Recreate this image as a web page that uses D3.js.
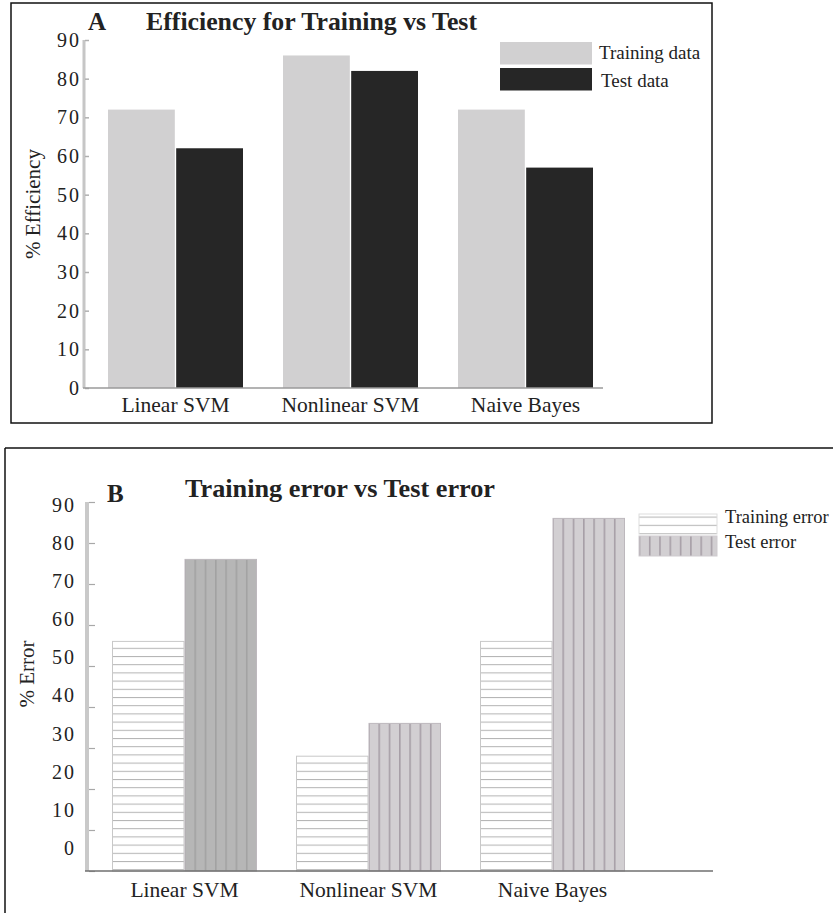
<!DOCTYPE html>
<html>
<head>
<meta charset="utf-8">
<script src="https://cdn.jsdelivr.net/npm/d3@7"></script>
<style>
html,body{margin:0;padding:0;background:#fff;}
svg{display:block;}
text{font-family:"Liberation Serif","Times New Roman",serif;fill:#222;}
</style>
</head>
<body>
<script>
// ---------- data ----------
const categories = ["Linear SVM", "Nonlinear SVM", "Naive Bayes"];
const effSeries = ["Training data", "Test data"];
const effTraining = [72, 86, 72];
const effTest = [62, 82, 57];
const errSeries = ["Training error", "Test error"];
const errTraining = [56, 28, 56];
const errTest = [76, 36, 86];
const yTicks = [0, 10, 20, 30, 40, 50, 60, 70, 80, 90];
const titleA = "Efficiency for Training vs Test";
const titleB = "Training error vs Test error";
const yLabelA = "% Efficiency";
const yLabelB = "% Error";

const W = 833, H = 913;
const svg = d3.select("body").append("svg").attr("width", W).attr("height", H);

const defs = svg.append("defs");
// horizontal-line hatch (training error)
const ph = defs.append("pattern").attr("id", "hatchH").attr("patternUnits", "userSpaceOnUse")
  .attr("width", 10).attr("height", 8.2);
ph.append("rect").attr("width", 10).attr("height", 8.2).attr("fill", "#fff");
ph.append("rect").attr("y", 0).attr("width", 10).attr("height", 1).attr("fill", "#b3b3b3");
// vertical-line hatch (test error)
function vHatch(id, bg, line) {
  const p = defs.append("pattern").attr("id", id).attr("patternUnits", "userSpaceOnUse")
    .attr("width", 10.3).attr("height", 10);
  p.append("rect").attr("width", 10.3).attr("height", 10).attr("fill", bg);
  p.append("rect").attr("x", 0).attr("width", 1.6).attr("height", 10).attr("fill", line);
}
vHatch("hatchV", "#d2cfd2", "#a79fa7");
vHatch("hatchVdark", "#b6b6b6", "#a2a2a2");

// ================= Panel A =================
svg.append("rect").attr("x", 11).attr("y", 3).attr("width", 701).attr("height", 420)
  .attr("fill", "none").attr("stroke", "#111").attr("stroke-width", 1.5);

const yA = d3.scaleLinear().domain([0, 90]).range([388, 40]);
const x0A = d3.scaleBand().domain(categories).range([108, 593]).paddingInner(40 / 175).paddingOuter(0);
const x1A = d3.scaleBand().domain(effSeries).range([0, x0A.bandwidth()]).paddingInner(0.02);
const colA = d3.scaleOrdinal().domain(effSeries).range(["#d1d0d1", "#262626"]);

const gA = svg.append("g");
const rowsA = categories.map((c, i) => ({ c, vals: [effTraining[i], effTest[i]] }));
gA.selectAll("g.grp").data(rowsA).join("g").attr("class", "grp")
  .attr("transform", d => `translate(${x0A(d.c)},0)`)
  .selectAll("rect").data(d => d.vals.map((v, j) => ({ s: effSeries[j], v })))
  .join("rect")
  .attr("x", d => x1A(d.s)).attr("width", x1A.bandwidth())
  .attr("y", d => yA(d.v)).attr("height", d => yA(0) - yA(d.v))
  .attr("fill", d => colA(d.s));

gA.append("line").attr("x1", 84).attr("x2", 84).attr("y1", yA(90)).attr("y2", yA(0))
  .attr("stroke", "#c6c6c6").attr("stroke-width", 3);
const tA = gA.append("g").attr("transform", "translate(85,0)")
  .call(d3.axisRight(yA).tickValues(yTicks).tickSize(4).tickFormat(""));
tA.select(".domain").remove();
tA.selectAll(".tick line").attr("stroke", "#b0b0b0").attr("stroke-width", 1.5);
const lA = gA.append("g").attr("transform", "translate(81,0)")
  .call(d3.axisLeft(yA).tickValues(yTicks).tickSize(0).tickPadding(0));
lA.select(".domain").remove();
lA.selectAll(".tick text").attr("font-family", "Liberation Serif").attr("font-size", 20)
  .attr("letter-spacing", "2px").attr("fill", "#222");
gA.append("line").attr("x1", 83).attr("x2", 603).attr("y1", yA(0)).attr("y2", yA(0))
  .attr("stroke", "#9a9a9a").attr("stroke-width", 1.5);
gA.selectAll("text.cat").data(categories).join("text").attr("class", "cat")
  .attr("x", d => x0A(d) + x0A.bandwidth() / 2).attr("y", 412)
  .attr("text-anchor", "middle").attr("font-size", 21.5).text(d => d);
gA.append("text").attr("transform", "translate(40,204) rotate(-90)")
  .attr("text-anchor", "middle").attr("font-size", 21).text(yLabelA);
gA.append("text").attr("x", 88).attr("y", 30).attr("font-size", 25).attr("font-weight", "bold").text("A");
gA.append("text").attr("x", 146).attr("y", 30).attr("font-size", 25).attr("font-weight", "bold")
  .attr("textLength", 331).attr("lengthAdjust", "spacingAndGlyphs").text(titleA);
const legA = gA.append("g");
effSeries.forEach((s, i) => {
  legA.append("rect").attr("x", 500).attr("y", 42 + i * 26).attr("width", 92).attr("height", 22.5)
    .attr("fill", colA(s));
  legA.append("text").attr("x", 599 + i * 2).attr("y", 59 + i * 28).attr("font-size", 19).text(s);
});

// ================= Panel B =================
svg.append("line").attr("x1", 5).attr("x2", W).attr("y1", 448).attr("y2", 448)
  .attr("stroke", "#111").attr("stroke-width", 1.5);
svg.append("line").attr("x1", 5).attr("x2", 5).attr("y1", 448).attr("y2", H)
  .attr("stroke", "#111").attr("stroke-width", 1.5);

const yB = d3.scaleLinear().domain([0, 90]).range([871, 502]);
const yBLabel = d3.scaleLinear().domain([0, 90]).range([848, 505]);
const x0B = d3.scaleBand().domain(categories).range([112, 625]).paddingInner(39 / 184).paddingOuter(0);
const x1B = d3.scaleBand().domain(errSeries).range([0, x0B.bandwidth()]).paddingInner(0);

const gB = svg.append("g");
gB.append("line").attr("x1", 87).attr("x2", 87).attr("y1", yB(90)).attr("y2", yB(0))
  .attr("stroke", "#c9c9c9").attr("stroke-width", 4);
const tB = gB.append("g").attr("transform", "translate(89,0)")
  .call(d3.axisRight(yB).tickValues(yTicks).tickSize(6).tickFormat(""));
tB.select(".domain").remove();
tB.selectAll(".tick line").attr("stroke", "#a8a8a8").attr("stroke-width", 1.2);
const lB = gB.append("g").attr("transform", "translate(76,0)")
  .call(d3.axisLeft(yBLabel).tickValues(yTicks).tickSize(0).tickPadding(0));
lB.select(".domain").remove();
lB.selectAll(".tick text").attr("font-family", "Liberation Serif").attr("font-size", 20)
  .attr("letter-spacing", "2px").attr("fill", "#222");

const rowsB = categories.map((c, i) => ({ c, i, vals: [errTraining[i], errTest[i]] }));
gB.selectAll("g.grp").data(rowsB).join("g").attr("class", "grp")
  .attr("transform", d => `translate(${x0B(d.c)},0)`)
  .selectAll("rect").data(d => d.vals.map((v, j) => ({ s: errSeries[j], v, i: d.i, j })))
  .join("rect")
  .attr("x", d => x1B(d.s) + 0.5).attr("width", x1B.bandwidth() - 1)
  .attr("y", d => yB(d.v)).attr("height", d => yB(0) - yB(d.v))
  .attr("fill", d => d.j === 0 ? "url(#hatchH)" : (d.i === 0 ? "url(#hatchVdark)" : "url(#hatchV)"))
  .attr("stroke", d => d.j === 0 ? "#c8c8c8" : "#bdb8bd").attr("stroke-width", 1);

gB.append("line").attr("x1", 85).attr("x2", 713).attr("y1", yB(0)).attr("y2", yB(0))
  .attr("stroke", "#6f6f6f").attr("stroke-width", 1.5);
gB.selectAll("text.cat").data(categories).join("text").attr("class", "cat")
  .attr("x", d => x0B(d) + x0B.bandwidth() / 2).attr("y", 897)
  .attr("text-anchor", "middle").attr("font-size", 21.5).text(d => d);
gB.append("text").attr("transform", "translate(34,674) rotate(-90)")
  .attr("text-anchor", "middle").attr("font-size", 21).text(yLabelB);
gB.append("text").attr("x", 107).attr("y", 502).attr("font-size", 25).attr("font-weight", "bold").text("B");
gB.append("text").attr("x", 185).attr("y", 497).attr("font-size", 25).attr("font-weight", "bold")
  .attr("textLength", 310).attr("lengthAdjust", "spacingAndGlyphs").text(titleB);
const legB = gB.append("g");
errSeries.forEach((s, i) => {
  legB.append("rect").attr("x", 639).attr("y", 514 + i * 22).attr("width", 78).attr("height", 20)
    .attr("fill", i === 0 ? "url(#hatchH)" : "url(#hatchV)")
    .attr("stroke", i === 0 ? "#dddddd" : "#cfcbcf").attr("stroke-width", 1);
  legB.append("text").attr("x", 725).attr("y", 523 + i * 25).attr("font-size", 18.5).text(s);
});
</script>
</body>
</html>
